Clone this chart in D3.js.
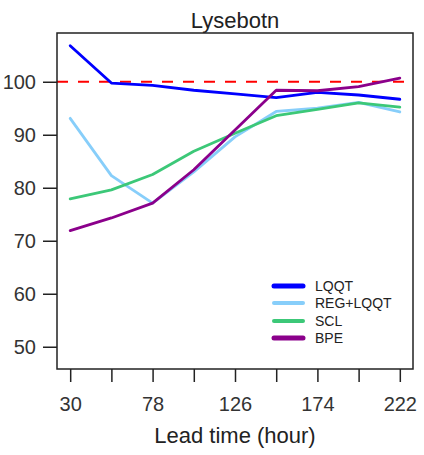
<!DOCTYPE html>
<html><head><meta charset="utf-8">
<script src="https://cdn.jsdelivr.net/npm/d3@7"></script>
<style>body{margin:0;background:#fff;} text{font-family:Arial, "Liberation Sans", sans-serif;}</style>
</head><body><div id="chart"></div>
<script>
const leadTimes = [30, 54, 78, 102, 126, 150, 174, 198, 222];
const xTickLabels = [30, 78, 126, 174, 222];
const yTicks = [50, 60, 70, 80, 90, 100];
const seriesNames = ["LQQT", "REG+LQQT", "SCL", "BPE"];
const seriesColors = ["#0000FF", "#87CEFA", "#3CC878", "#8B008B"];
const lqqt = [106.8, 99.75, 99.3, 98.4, 97.7, 97.0, 98.0, 97.5, 96.7];
const regLqqt = [93.1, 82.3, 77.1, 83.0, 89.6, 94.4, 95.0, 96.1, 94.3];
const scl = [77.9, 79.6, 82.5, 86.9, 90.3, 93.6, 94.8, 96.0, 95.2];
const bpe = [71.9, 74.3, 77.1, 83.4, 90.9, 98.4, 98.3, 99.1, 100.7];
const seriesValues = [lqqt, regLqqt, scl, bpe];
const refValue = 100;

const W = 424, H = 455;
const L = 57, R = 413, T = 33, B = 369;
const svg = d3.select("#chart").append("svg").attr("width", W).attr("height", H);

const x = d3.scaleLinear().domain([22.32, 229.68]).range([L, R]);
const y = d3.scaleLinear().domain([45.8, 109.2]).range([B, T]);

// reference line
svg.append("line").attr("x1", L).attr("x2", R).attr("y1", y(refValue)).attr("y2", y(refValue))
  .attr("stroke", "#FF0000").attr("stroke-width", 2).attr("stroke-dasharray", "11,10");

const line = d3.line().x((d, i) => x(leadTimes[i])).y(d => y(d));
// draw order: REG+LQQT, SCL, LQQT, BPE
[1, 2, 0, 3].forEach(k => {
  svg.append("path").datum(seriesValues[k]).attr("d", line)
    .attr("fill", "none").attr("stroke", seriesColors[k]).attr("stroke-width", 2.8)
    .attr("stroke-linejoin", "round").attr("stroke-linecap", "round");
});

// box
svg.append("rect").attr("x", L).attr("y", T).attr("width", R - L).attr("height", B - T)
  .attr("fill", "none").attr("stroke", "#222").attr("stroke-width", 1.5);

// x axis
const xAxis = d3.axisBottom(x).tickValues(leadTimes).tickSize(13).tickPadding(15)
  .tickFormat(d => xTickLabels.includes(d) ? d : "");
const gx = svg.append("g").attr("transform", `translate(0,${B})`).call(xAxis);
gx.select(".domain").remove();
gx.selectAll("line").attr("stroke", "#222").attr("stroke-width", 1.5);
gx.selectAll("text").attr("font-size", 20).attr("fill", "#333");

// y axis
const yAxis = d3.axisLeft(y).tickValues(yTicks).tickSize(14).tickPadding(7);
const gy = svg.append("g").attr("transform", `translate(${L},0)`).call(yAxis);
gy.select(".domain").remove();
gy.selectAll("line").attr("stroke", "#222").attr("stroke-width", 1.5);
gy.selectAll("text").attr("font-size", 20).attr("fill", "#333");

// title
svg.append("text").attr("x", (L + R) / 2).attr("y", 28).attr("text-anchor", "middle")
  .attr("font-size", 22).attr("fill", "#222").text("Lysebotn");
// x label
svg.append("text").attr("x", (L + R) / 2).attr("y", 443).attr("text-anchor", "middle")
  .attr("font-size", 22).attr("fill", "#222").text("Lead time (hour)");

// legend
const legY = [286, 303, 321, 338];
const legW = [5, 4, 4, 5];
seriesNames.forEach((n, k) => {
  svg.append("line").attr("x1", 274).attr("x2", 303).attr("y1", legY[k]).attr("y2", legY[k])
    .attr("stroke", seriesColors[k]).attr("stroke-width", legW[k]).attr("stroke-linecap", "round");
  svg.append("text").attr("x", 315).attr("y", legY[k]).attr("dy", "0.35em")
    .attr("font-size", 14).attr("fill", "#222").text(n);
});
</script></body></html>
